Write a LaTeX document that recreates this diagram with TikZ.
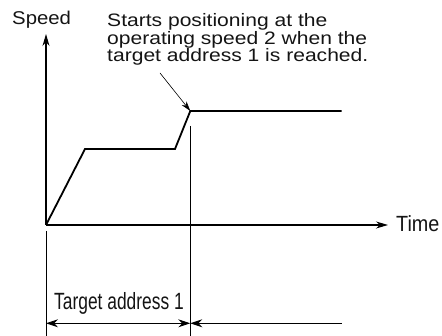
\documentclass[tikz,border=0pt]{standalone}
\usepackage{fontspec}
\setmainfont{Liberation Sans}
\usetikzlibrary{arrows.meta}

\begin{document}
\begin{tikzpicture}[>={Stealth[length=12pt,width=7pt]}, x=1pt, y=1pt,
		lbl/.style={inner sep=0pt, transform shape, text=black!92},
		axis/.style={line width=1.1pt},
		speedline/.style={line width=1.8pt},
		thinline/.style={line width=0.9pt}]
		\useasboundingbox (0,0) rectangle (442,336);
		% points
		\coordinate (O) at (46,111);
		\coordinate (ytop) at (46,302);
		\coordinate (xend) at (388,111);
		\coordinate (A1) at (85,187);
		\coordinate (A2) at (175,187);
		\coordinate (B2) at (190.3,225);
		\coordinate (C) at (341.7,225);
		\coordinate (ptail) at (160,263);
		\coordinate (m1) at (190.3,210);
		\coordinate (m2) at (190.3,0);
		\coordinate (n1) at (46,105);
		\coordinate (n2) at (46,0);
		\coordinate (d1) at (46,12.7);
		\coordinate (d2) at (190.3,12.7);
		\coordinate (d3) at (341.7,12.7);
		% axes
		\draw[axis, ->] (O) -- (ytop);
		\draw[axis, ->] (O) -- (xend);
		\node[lbl, anchor=base west, font=\fontsize{18.5}{18.5}\selectfont, xscale=1.1] (speed) at (12,311) {Speed};
		\node[lbl, anchor=base west, font=\fontsize{22}{22}\selectfont, xscale=0.9] (time) at (396,104.5) {Time};
		% speed curve
		\draw[speedline, line join=miter] (O) -- (A1) -- (A2) -- (B2) -- (C);
		% note
		\node[lbl, anchor=north west, align=left, font=\fontsize{18}{17.6}\selectfont, xscale=1.17] (note) at (107,322.7)
			{Starts positioning at the\\operating speed 2 when the\\target address 1 is reached.};
		\draw[line width=0.6pt, -{Stealth[length=10pt,width=6pt]}] (ptail) -- (B2);
		% target address
		\draw[thinline] (m1) -- (m2);
		\draw[thinline] (n1) -- (n2);
		\draw[thinline, {Stealth[length=12pt,width=8pt]}-{Stealth[length=12pt,width=8pt]}] (d1) -- (d2);
		\draw[thinline, {Stealth[length=12pt,width=8pt]}-] (d2) -- (d3);
		\node[lbl, anchor=base, font=\fontsize{23.5}{23.5}\selectfont, xscale=0.74] (target) at (119,26) {Target address 1};
	\end{tikzpicture}
\end{document}
